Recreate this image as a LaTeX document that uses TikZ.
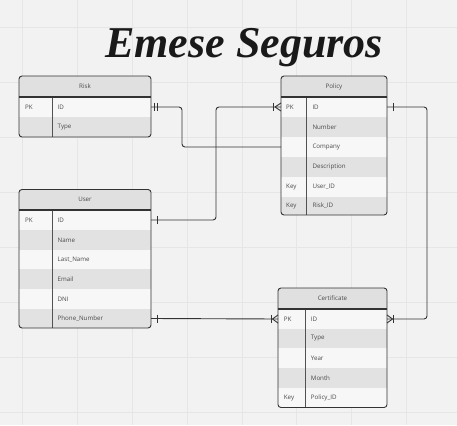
\documentclass[tikz,border=0pt]{standalone}
\usepackage{fontspec}
\setmainfont{Liberation Serif}
\newfontfamily\uifont{Open Sans}
\usetikzlibrary{calc}
\definecolor{bg}{HTML}{F2F2F2}
\definecolor{gridc}{HTML}{E6E6E6}
\definecolor{hdr}{HTML}{E0E0E0}
\definecolor{rowa}{HTML}{F7F7F7}
\definecolor{rowb}{HTML}{E2E2E2}
\definecolor{txt}{HTML}{4A4A4A}
\definecolor{edge}{HTML}{333333}
\tikzset{
  rowbox/.style={draw=none, inner sep=0pt, outer sep=0pt, rectangle},
  celltxt/.style={font=\uifont\fontsize{6.2}{7}\selectfont, text=txt, inner sep=0pt, anchor=west},
  hdrtxt/.style={font=\uifont\fontsize{6.2}{7}\selectfont, text=txt, inner sep=0pt},
  border/.style={draw=edge, line width=0.9pt, rounded corners=3pt},
  divline/.style={draw=edge!85, line width=0.8pt},
  conn/.style={draw=edge, line width=0.9pt},
}
% \erow{name}{x1}{x2}{ytop}{ybot}{fill}{keyx}{fieldx}{key}{field}
\newcommand\erow[9]{%
  \node[rowbox, fill=#6, minimum width={(#3-#2)*1pt}, minimum height={(#5-#4)*1pt}] (#1) at ({(#2+#3)/2},{(#4+#5)/2}) {};
  \node[celltxt] (#1-k) at (#7,{(#4+#5)/2}) {#9};
  \erowfield{#1}{#8}{(#4+#5)/2}}
\newcommand\erowfield[4]{\node[celltxt] (#1-f) at (#2,{#3}) {#4};}
\begin{document}
\begin{tikzpicture}[x=1pt,y=-1pt]
\useasboundingbox (0,0) rectangle (457,425);
\fill[bg] (0,0) rectangle (457,425);
% grid
\foreach \gx in {22.7,77.5,132.3,187.1,241.9,296.7,351.5,406.3}
  \draw[gridc, line width=0.8pt] (\gx,0) -- (\gx,425);
\foreach \gy in {27,82,137,192,247,302,357,412}
  \draw[gridc, line width=0.8pt] (0,\gy) -- (457,\gy);
% title
\node[font=\bfseries\itshape\fontsize{44}{48}\selectfont, text=black!90, inner sep=0pt, anchor=base] (title) at (244,58) {Emese Seguros};

% ---------- Risk ----------
\begin{scope}
\clip[rounded corners=3pt] (19,76) rectangle (151,137);
\node[rowbox, fill=hdr, minimum width=132pt, minimum height=21pt] (risk-h) at (85,86.5) {};
\erow{risk-id}{19}{151}{97}{117}{rowa}{25}{57.5}{PK}{ID}
\erow{risk-type}{19}{151}{117}{137}{rowb}{25}{57.5}{}{Type}
\end{scope}
\node[hdrtxt] (risk-t) at (85,86.5) {Risk};
\draw[divline] (52,97) -- (52,137);
\draw[edge, line width=1.1pt] (19,97) -- (151,97);
\draw[border] (19,76) rectangle (151,137);

% ---------- Policy ----------
\begin{scope}
\clip[rounded corners=3pt] (281,76) rectangle (387,215);
\node[rowbox, fill=hdr, minimum width=106pt, minimum height=21pt] (pol-h) at (334,86.5) {};
\erow{pol-id}{281}{387}{97}{117}{rowa}{286}{312.3}{PK}{ID}
\erow{pol-number}{281}{387}{117}{137}{rowb}{286}{312.3}{}{Number}
\erow{pol-company}{281}{387}{137}{157}{rowa}{286}{312.3}{}{Company}
\erow{pol-desc}{281}{387}{157}{177}{rowb}{286}{312.3}{}{Description}
\erow{pol-user}{281}{387}{177}{197}{rowa}{286}{312.3}{Key}{User\_ID}
\erow{pol-risk}{281}{387}{197}{215}{rowb}{286}{312.3}{Key}{Risk\_ID}
\end{scope}
\node[hdrtxt] (pol-t) at (334,86.5) {Policy};
\draw[divline] (306.7,97) -- (306.7,215);
\draw[edge, line width=1.1pt] (281,97) -- (387,97);
\draw[border] (281,76) rectangle (387,215);

% ---------- User ----------
\begin{scope}
\clip[rounded corners=3pt] (19,189.5) rectangle (151,328);
\node[rowbox, fill=hdr, minimum width=132pt, minimum height=20.5pt] (user-h) at (85,199.75) {};
\erow{user-id}{19}{151}{210}{230}{rowa}{25}{57.5}{PK}{ID}
\erow{user-name}{19}{151}{230}{250}{rowb}{25}{57.5}{}{Name}
\erow{user-last}{19}{151}{250}{269}{rowa}{25}{57.5}{}{Last\_Name}
\erow{user-email}{19}{151}{269}{289}{rowb}{25}{57.5}{}{Email}
\erow{user-dni}{19}{151}{289}{309}{rowa}{25}{57.5}{}{DNI}
\erow{user-phone}{19}{151}{309}{328}{rowb}{25}{57.5}{}{Phone\_Number}
\end{scope}
\node[hdrtxt] (user-t) at (85,199.75) {User};
\draw[divline] (52,210) -- (52,328);
\draw[edge, line width=1.1pt] (19,210) -- (151,210);
\draw[border] (19,189.5) rectangle (151,328);

% ---------- Certificate ----------
\begin{scope}
\clip[rounded corners=3pt] (278,288) rectangle (387,407.5);
\node[rowbox, fill=hdr, minimum width=109pt, minimum height=21pt] (cert-h) at (332.5,298.5) {};
\erow{cert-id}{278}{387}{309}{329}{rowa}{283.7}{310.7}{PK}{ID}
\erow{cert-type}{278}{387}{329}{348}{rowb}{283.7}{310.7}{}{Type}
\erow{cert-year}{278}{387}{348}{368}{rowa}{283.7}{310.7}{}{Year}
\erow{cert-month}{278}{387}{368}{388}{rowb}{283.7}{310.7}{}{Month}
\erow{cert-pol}{278}{387}{388}{407.5}{rowa}{283.7}{310.7}{Key}{Policy\_ID}
\end{scope}
\node[hdrtxt] (cert-t) at (332.5,298.5) {Certificate};
\draw[divline] (305,309) -- (305,407.5);
\draw[edge, line width=1.1pt] (278,309) -- (387,309);
\draw[border] (278,288) rectangle (387,407.5);

% ---------- connectors ----------
% Risk -> Policy
\draw[conn, rounded corners=3pt] (risk-id.east) -- ++(31,0) |- (pol-company.west);
\draw[conn] ($(risk-id.east)+(3.5,-4)$) -- ++(0,8);
\draw[conn] ($(risk-id.east)+(6,-4)$) -- ++(0,8);
% User -> Policy
\draw[conn, rounded corners=3pt] (user-id.east) -- ++(65,0) |- (pol-id.west);
\draw[conn] ($(user-id.east)+(6.5,-4)$) -- ++(0,8);
\draw[conn] ($(pol-id.west)+(-6,0)$) -- ($(pol-id.west)+(0,-4)$);
\draw[conn] ($(pol-id.west)+(-6,0)$) -- ($(pol-id.west)+(0,4)$);
\draw[conn] ($(pol-id.west)+(-8,-4)$) -- ++(0,8);
% Policy -> Certificate
\draw[conn, rounded corners=3pt] (pol-id.east) -- ++(40,0) |- (cert-id.east);
\draw[conn] ($(pol-id.east)+(6,-4)$) -- ++(0,8);
\draw[conn] ($(cert-id.east)+(5.5,0)$) -- ($(cert-id.east)+(0,-4)$);
\draw[conn] ($(cert-id.east)+(5.5,0)$) -- ($(cert-id.east)+(0,4)$);
\draw[conn] ($(cert-id.east)+(6.5,-4)$) -- ++(0,8);
% User phone -> Certificate
\draw[conn] (user-phone.east) -- (cert-id.west);
\draw[conn] ($(user-phone.east)+(6.5,-4)$) -- ++(0,8);
\draw[conn] ($(cert-id.west)+(-5.5,0)$) -- ($(cert-id.west)+(0,-4)$);
\draw[conn] ($(cert-id.west)+(-5.5,0)$) -- ($(cert-id.west)+(0,4)$);
\draw[conn] ($(cert-id.west)+(-6.5,-4)$) -- ++(0,8);
\end{tikzpicture}
\end{document}
